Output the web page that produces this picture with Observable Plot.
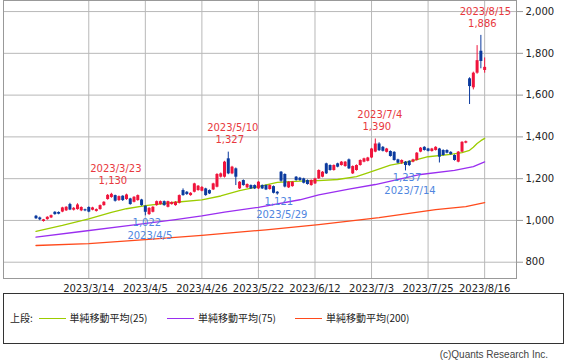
<!DOCTYPE html>
<html><head><meta charset="utf-8">
<script src="https://cdn.jsdelivr.net/npm/d3@7"></script>
<script src="https://cdn.jsdelivr.net/npm/@observablehq/plot@0.6"></script>
<style>
body{margin:0;background:#fff;}
#wrap{position:relative;width:565px;height:360px;overflow:hidden;font-family:"DejaVu Sans",sans-serif;}
#chart{position:absolute;left:0;top:0;}
#legend{position:absolute;left:3px;top:293px;width:561px;height:51px;border:1px solid #333;box-sizing:border-box;}
.lg{position:absolute;top:17px;font-family:"Noto Sans CJK JP",sans-serif;font-size:10px;color:#222;line-height:14px;white-space:nowrap;}
.ln{position:absolute;top:24px;height:0;border-top:1px solid;}
#copy{position:absolute;right:17px;top:349px;font-family:"Liberation Sans",sans-serif;font-size:10px;color:#444;}
</style></head>
<body>
<div id="wrap">
  <div id="chart"></div>
  <div id="legend"></div>
  <div id="copy">(c)Quants Research Inc.</div>
</div>
<script>
// trading dates
const dates = ["2023/2/21","2023/2/22","2023/2/24","2023/2/27","2023/2/28",
"2023/3/1","2023/3/2","2023/3/3","2023/3/6","2023/3/7","2023/3/8","2023/3/9","2023/3/10","2023/3/13","2023/3/14",
"2023/3/15","2023/3/16","2023/3/17","2023/3/20","2023/3/22","2023/3/23","2023/3/24","2023/3/27","2023/3/28","2023/3/29","2023/3/30","2023/3/31",
"2023/4/3","2023/4/4","2023/4/5","2023/4/6","2023/4/7","2023/4/10","2023/4/11","2023/4/12","2023/4/13","2023/4/14","2023/4/17","2023/4/18","2023/4/19","2023/4/20","2023/4/21","2023/4/24","2023/4/25","2023/4/26","2023/4/27","2023/4/28",
"2023/5/1","2023/5/2","2023/5/8","2023/5/9","2023/5/10","2023/5/11","2023/5/12","2023/5/15","2023/5/16","2023/5/17","2023/5/18","2023/5/19","2023/5/22","2023/5/23","2023/5/24","2023/5/25","2023/5/26","2023/5/29","2023/5/30","2023/5/31",
"2023/6/1","2023/6/2","2023/6/5","2023/6/6","2023/6/7","2023/6/8","2023/6/9","2023/6/12","2023/6/13","2023/6/14","2023/6/15","2023/6/16","2023/6/19","2023/6/20","2023/6/21","2023/6/22","2023/6/23","2023/6/26","2023/6/27","2023/6/28","2023/6/29","2023/6/30",
"2023/7/3","2023/7/4","2023/7/5","2023/7/6","2023/7/7","2023/7/10","2023/7/11","2023/7/12","2023/7/13","2023/7/14","2023/7/18","2023/7/19","2023/7/20","2023/7/21","2023/7/24","2023/7/25","2023/7/26","2023/7/27","2023/7/28","2023/7/31",
"2023/8/1","2023/8/2","2023/8/3","2023/8/4","2023/8/7","2023/8/8","2023/8/9","2023/8/10","2023/8/14","2023/8/15","2023/8/16"];

const open = [1020,1012,995,1004,1012,1039,1038,1040,1046,1076,1049,1052,1046,1051,1062,
1049,1043,1052,1071,1100,1110,1119,1095,1116,1100,1103,1087,
1095,1098,1068,1028,1039,1071,1076,1090,1063,1076,1071,1082,1143,1135,1119,1135,1143,1140,1151,1143,
1146,1159,1207,1207,1295,1223,1247,1151,1191,1156,1167,1167,1151,1167,1167,1148,1162,1135,1231,1220,
1156,1162,1207,1202,1199,1191,1167,1175,1199,1207,1271,1263,1239,1271,1263,1258,1290,1223,1239,1263,1279,1283,
1299,1327,1366,1350,1326,1330,1326,1290,1274,1279,1283,1279,1287,1327,1350,1342,1330,1335,1342,1335,
1335,1326,1311,1279,1327,1370,1678,1635,1705,1810,1718];
const high = [1024,1016,1005,1018,1026,1042,1041,1063,1066,1082,1062,1080,1065,1054,1065,
1063,1055,1074,1090,1124,1130,1121,1117,1118,1126,1106,1114,
1122,1101,1070,1061,1066,1093,1093,1093,1092,1089,1090,1122,1151,1138,1133,1178,1167,1162,1154,1146,
1178,1224,1227,1283,1327,1259,1251,1186,1194,1175,1170,1170,1186,1170,1170,1170,1165,1138,1234,1223,
1186,1186,1210,1206,1202,1194,1194,1202,1242,1234,1274,1266,1266,1274,1282,1282,1294,1261,1266,1290,1298,1302,
1345,1390,1372,1354,1345,1333,1329,1293,1290,1282,1286,1293,1325,1349,1353,1345,1345,1353,1345,1338,
1338,1329,1314,1330,1377,1380,1683,1710,1837,1886,1778];
const low = [1005,999,992,1001,1009,1025,1027,1037,1043,1047,1045,1049,1042,1042,1037,
1046,1040,1049,1068,1097,1106,1088,1091,1091,1096,1073,1084,
1092,1068,1022,1024,1036,1068,1073,1068,1060,1073,1068,1079,1116,1120,1116,1132,1140,1137,1116,1124,
1143,1156,1203,1203,1219,1219,1167,1148,1164,1153,1148,1148,1148,1148,1143,1145,1127,1121,1183,1156,
1153,1159,1188,1188,1175,1169,1164,1172,1196,1204,1220,1236,1236,1252,1260,1255,1244,1220,1236,1260,1276,1280,
1296,1324,1330,1328,1323,1303,1284,1271,1268,1237,1258,1276,1284,1324,1332,1328,1327,1332,1275,1308,
1319,1312,1284,1276,1324,1367,1555,1625,1700,1726,1705];
const close = [1008,1003,1003,1015,1023,1028,1030,1060,1063,1050,1058,1074,1062,1046,1040,
1060,1052,1071,1087,1120,1125,1092,1114,1095,1122,1076,1111,
1119,1071,1039,1058,1063,1090,1090,1071,1090,1086,1087,1119,1119,1124,1130,1175,1164,1158,1119,1127,
1175,1220,1223,1279,1223,1255,1207,1183,1167,1172,1151,1151,1183,1151,1146,1167,1130,1127,1188,1160,
1183,1183,1191,1191,1178,1172,1191,1199,1239,1231,1223,1239,1263,1255,1279,1279,1247,1258,1263,1287,1295,1299,
1342,1366,1334,1331,1342,1306,1287,1274,1287,1263,1263,1290,1322,1346,1335,1331,1342,1350,1303,1311,
1322,1315,1287,1327,1374,1377,1641,1705,1765,1761,1733];

// moving averages read at sampled dates
const ma25Dates = ["2023/2/21","2023/3/3","2023/3/14","2023/3/23","2023/3/29","2023/4/5","2023/4/17","2023/4/26","2023/5/8","2023/5/15","2023/5/22","2023/5/29","2023/6/6","2023/6/13","2023/6/20","2023/6/27","2023/6/30","2023/7/10","2023/7/18","2023/7/25","2023/8/2","2023/8/7","2023/8/9","2023/8/10","2023/8/14","2023/8/15","2023/8/16"];
const ma25Values = [948,976,1008,1039,1056,1071,1087,1098,1117,1143,1162,1182,1188,1191,1196,1210,1228,1265,1282,1305,1316,1325,1336,1350,1368,1382,1393];
const ma75Dates = ["2023/2/21","2023/3/10","2023/3/30","2023/4/17","2023/4/26","2023/5/9","2023/5/22","2023/6/6","2023/6/13","2023/6/23","2023/7/4","2023/7/13","2023/7/21","2023/8/3","2023/8/10","2023/8/16"];
const ma75Values = [920,947,976,1004,1022,1040,1063,1099,1122,1150,1172,1200,1220,1240,1258,1280];
const ma200Dates = ["2023/2/21","2023/3/14","2023/4/5","2023/4/26","2023/5/24","2023/6/13","2023/7/5","2023/7/27","2023/8/8","2023/8/16"];
const ma200Values = [880,889,908,928,955,980,1013,1052,1066,1085];

const tickDates = ["2023/3/14","2023/4/5","2023/4/26","2023/5/22","2023/6/12","2023/7/3","2023/7/25","2023/8/16"];
const yTicks = [800,1000,1200,1400,1600,1800,2000];

const annotDates = ["2023/3/23","2023/4/5","2023/5/10","2023/5/29","2023/7/4","2023/7/14","2023/8/15"];
const annotValues = [1130,1022,1327,1121,1390,1237,1886];
const annotKinds = ["high","low","high","low","high","low","high"];

const RED = "#f0143c", BLUE = "#0b3a9e";
const ARED = "#e8383d", ABLUE = "#4f86e0";
const GRID = "#b8b8b8";

const candles = dates.map((d, i) => ({i, o: open[i], h: high[i], l: low[i], c: close[i], up: close[i] >= open[i]}));
const maLine = (ds, vs) => ds.map((d, k) => ({i: dates.indexOf(d), v: vs[k]}));
const ma25 = maLine(ma25Dates, ma25Values);
const ma75 = maLine(ma75Dates, ma75Values);
const ma200 = maLine(ma200Dates, ma200Values);
const tickIdx = tickDates.map(d => dates.indexOf(d));
const annots = annotDates.map((d, k) => ({i: dates.indexOf(d), d, v: annotValues[k], kind: annotKinds[k]}));
const highs = annots.filter(a => a.kind === "high");
const lows = annots.filter(a => a.kind === "low");
const fmt = d3.format(",");

const chart = Plot.plot({
  width: 565, height: 293,
  marginLeft: 3, marginRight: 49, marginTop: 0, marginBottom: 15,
  style: {fontFamily: "DejaVu Sans", fontSize: "10px", color: "#222", background: "#fff"},
  x: {type: "linear", domain: [-8.62, 127.45]},
  y: {domain: [722, 2053]},
  marks: [
    Plot.gridY(yTicks, {stroke: GRID, strokeOpacity: 1}),
    Plot.gridX(tickIdx, {stroke: GRID, strokeOpacity: 1}),
    Plot.axisY(yTicks, {anchor: "right", tickSize: 6, tickPadding: 3, tickFormat: fmt, stroke: "#999", label: null}),
    Plot.axisX(tickIdx, {anchor: "bottom", tickSize: 0, tickPadding: 6, tickFormat: i => tickDates[tickIdx.indexOf(i)], label: null}),
    Plot.line(ma200, {x: "i", y: "v", stroke: "#ff4a1c", strokeWidth: 1.3}),
    Plot.line(ma75, {x: "i", y: "v", stroke: "#9a2ef0", strokeWidth: 1.3}),
    Plot.line(ma25, {x: "i", y: "v", stroke: "#9ccc00", strokeWidth: 1.3}),
    Plot.ruleX(candles, {x: "i", y1: "l", y2: "h", stroke: d => d.up ? RED : BLUE, strokeWidth: 1}),
    Plot.ruleX(candles, {x: "i", y1: "o", y2: "c", stroke: d => d.up ? RED : BLUE, strokeWidth: 3}),
    Plot.text(highs, {x: "i", y: "v", text: d => d.d, dy: -24, dx: 4.5, fill: ARED, fontSize: 10}),
    Plot.text(highs, {x: "i", y: "v", text: d => fmt(d.v), dy: -12, dx: 1.5, fill: ARED, fontSize: 10}),
    Plot.text(lows, {x: "i", y: "v", text: d => fmt(d.v), dy: 7, dx: 1.5, fill: ABLUE, fontSize: 10}),
    Plot.text(lows, {x: "i", y: "v", text: d => d.d, dy: 19.5, dx: 4.5, fill: ABLUE, fontSize: 10}),
    Plot.frame({stroke: "#999"})
  ]
});
document.getElementById("chart").appendChild(chart);

// legend
const legendLabels = ["上段:", "単純移動平均(25)", "単純移動平均(75)", "単純移動平均(200)"];
const legendColors = ["#9ccc00", "#9a2ef0", "#ff4a1c"];
const lg = document.getElementById("legend");
const lx = [6, 65.5, 194, 322];
const linex = [[35, 27], [163, 27], [291, 27]];
legendLabels.forEach((t, k) => {
  const s = document.createElement("span");
  s.className = "lg"; s.textContent = t; s.style.left = lx[k] + "px";
  lg.appendChild(s);
});
legendColors.forEach((c, k) => {
  const l = document.createElement("div");
  l.className = "ln"; l.style.left = linex[k][0] + "px"; l.style.width = linex[k][1] + "px"; l.style.borderColor = c;
  lg.appendChild(l);
});
</script>
</body></html>
